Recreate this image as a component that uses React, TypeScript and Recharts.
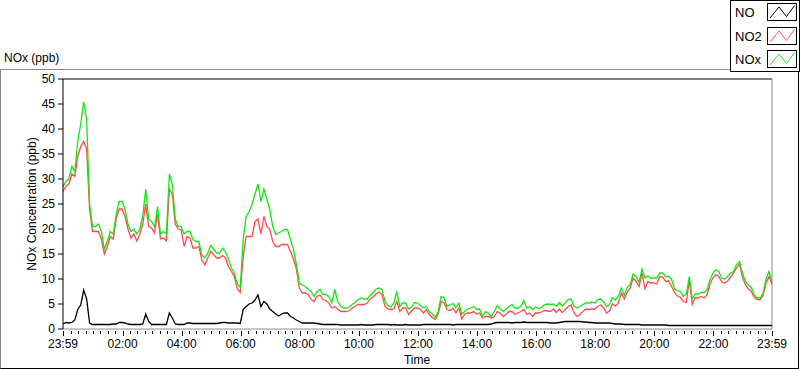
import React from "react";
import { LineChart, Line, XAxis, YAxis, ReferenceLine, Legend } from "recharts";

// one sample every 6 minutes, starting at 23:59
const STEP_MIN = 6;
const START_CLOCK = 23 * 60 + 59;

const NO = [
  1.0, 1.3, 1.2, 1.3, 1.8, 3.9, 4.8, 7.8, 6.0, 1.2,
  0.9, 0.9, 0.9, 0.9, 0.9, 0.9, 0.9, 1.0, 1.0, 1.3,
  1.3, 1.2, 1.0, 0.9, 0.9, 0.9, 0.9, 1.0, 3.0, 1.5,
  0.9, 0.9, 0.9, 0.9, 0.9, 0.9, 3.2, 2.2, 1.0, 0.9,
  0.9, 0.9, 1.2, 1.2, 1.1, 1.1, 1.1, 1.1, 1.1, 1.1,
  1.1, 1.1, 1.1, 1.2, 1.3, 1.3, 1.2, 1.2, 1.2, 1.2,
  1.1, 3.9, 4.5, 5.0, 5.2, 5.8, 6.8, 4.5, 5.5, 5.0,
  4.0, 3.5, 3.0, 2.6, 3.0, 3.2, 3.2, 2.5, 2.2, 1.8,
  1.5, 1.2, 1.2, 1.2, 1.2, 1.2, 1.1, 1.0, 0.9, 0.9,
  0.9, 0.9, 0.9, 0.9, 0.8, 0.8, 0.8, 0.8, 0.8, 0.8,
  0.8, 0.9, 0.8, 0.8, 0.8, 0.8, 0.9, 0.9, 0.9, 0.9,
  0.9, 0.8, 0.9, 0.8, 0.8, 0.8, 0.9, 0.8, 0.8, 0.8,
  0.8, 0.8, 0.9, 0.9, 0.9, 0.9, 0.9, 0.9, 0.9, 0.9,
  0.9, 0.9, 0.8, 0.9, 0.9, 0.9, 0.9, 0.9, 0.9, 0.9,
  0.9, 0.9, 0.9, 0.9, 0.9, 1.0, 1.2, 1.3, 1.3, 1.3,
  1.3, 1.3, 1.2, 1.3, 1.3, 1.3, 1.4, 1.3, 1.3, 1.3,
  1.3, 1.3, 1.3, 1.3, 1.3, 1.2, 1.2, 1.2, 1.3, 1.4,
  1.5, 1.5, 1.5, 1.5, 1.5, 1.5, 1.4, 1.4, 1.3, 1.3,
  1.2, 1.2, 1.2, 1.2, 1.2, 1.2, 1.1, 1.0, 1.0, 1.0,
  0.9, 0.9, 0.9, 0.9, 0.9, 0.9, 0.8, 0.8, 0.8, 0.8,
  0.8, 0.8, 0.8, 0.8, 0.8, 0.7, 0.7, 0.7, 0.7, 0.7,
  0.7, 0.7, 0.7, 0.7, 0.7, 0.7, 0.7, 0.7, 0.7, 0.7,
  0.7, 0.7, 0.7, 0.7, 0.7, 0.7, 0.7, 0.7, 0.7, 0.7,
  0.7, 0.7, 0.7, 0.7, 0.7, 0.7, 0.7, 0.7, 0.7, 0.7,
  0.7,
];

const NO2 = [
  27.5, 28.5, 29, 31, 30.5, 34.5, 36.5, 37.5, 36, 24,
  19.5, 19.5, 19.5, 18, 15, 16.5, 18.5, 18, 22, 24,
  24, 22.5, 20, 18.2, 19, 17.6, 19, 21, 25, 20.5,
  20.2, 19.2, 23, 18, 18.2, 17.6, 28, 27, 21, 20,
  19.8, 16.5, 18.5, 18.2, 16.2, 16.2, 16.5, 13.8, 12.8, 14.2,
  15.5, 14.9, 14.2, 14.2, 14.7, 14.2, 12.5, 11.5, 10.5, 8,
  7.3, 14.5, 18.5, 18.5, 18.5, 21.5, 22, 19, 22.5, 20.5,
  19.9, 17.5, 16.5, 16.5, 16.9, 16.9, 16.9, 15.5, 14, 12,
  8.2, 7.2, 7.2, 6.9, 5.9, 5.5, 6.5, 6.8, 5.9, 5.7,
  5.2, 4.2, 4.5, 4.0, 3.5, 3.5, 3.5, 3.7, 4.2, 4.6,
  4.9, 4.9, 4.9, 5.2, 6.0, 6.4, 7.0, 7.4, 6.8, 4.5,
  4.0, 3.9, 4.0, 5.5, 3.5, 4.2, 4.2, 2.9, 3.6, 4.2,
  4.2, 3.9, 3.2, 3.9, 2.9, 2.3, 1.9, 3.0, 5.5, 5.2,
  3.9, 3.7, 4.2, 3.2, 4.2, 2.0, 3.0, 3.2, 3.2, 3.5,
  3.0, 3.2, 2.2, 2.5, 2.5, 2.2, 2.5, 3.5, 3.2, 2.5,
  2.9, 3.5, 3.5, 2.9, 3.2, 3.5, 3.9, 2.9, 3.2, 2.5,
  3.2, 3.2, 3.4, 3.7, 3.6, 3.5, 4.0, 3.3, 4.0, 3.3,
  3.9, 4.5, 4.8, 3.2, 2.5, 2.9, 3.5, 4.0, 3.9, 4.0,
  4.0, 4.5, 4.8, 4.2, 3.2, 3.6, 5.0, 4.6, 5.2, 7.2,
  6.0, 7.4, 8.2, 10.2, 9.5, 8.5, 11.2, 8.0, 9.5, 9.2,
  9.2, 9.0, 10.5, 10.4, 9.5, 9.6, 8.5, 7.3, 6.6, 6.3,
  5.5, 5.3, 9.8, 4.9, 6.3, 6.2, 6.5, 6.2, 6.8, 9.0,
  10.2, 10.9, 10.5, 9.4, 9.2, 9.6, 10.4, 11.2, 12.2, 13.0,
  10.4, 8.8, 8.0, 7.5, 6.3, 5.9, 5.9, 6.7, 9.2, 10.5,
  9.0,
];

const NOX = [
  28.5, 29.5, 30, 32.5, 31.5, 37.5, 41, 45.5, 42, 25,
  20.5, 20.5, 21, 19.5, 16, 17.5, 19.5, 19, 23, 25.5,
  25.5, 24, 21, 19.5, 20, 19, 20, 22.5, 28, 22,
  21.5, 20.5, 24.5, 19, 19.5, 19, 31, 29, 22, 20.5,
  20.5, 19, 19.5, 19.5, 17.9, 17.5, 17.5, 14.8, 14.2, 15.2,
  16.7, 16, 15.2, 15.2, 16.2, 15.5, 14, 12.2, 11.2, 9,
  8.3, 18, 22.5, 23.5, 24.9, 27, 29, 25.5, 28, 26,
  23.9, 20.5, 18.9, 19.2, 19.5, 19.9, 19.9, 17.8, 16, 13,
  9.2, 8.8, 8.5, 8.0, 7.5, 6.5, 7.5, 7.9, 6.9, 6.9,
  6.5, 5.2, 7.9, 5.5, 4.5, 4.2, 4.2, 4.4, 5.0, 5.3,
  5.9, 6.2, 6.0, 6.0, 6.7, 7.3, 8.0, 8.2, 7.9, 5.5,
  4.7, 4.4, 5.2, 7.5, 4.5, 5.2, 5.2, 4.0, 4.4, 5.3,
  5.2, 4.7, 4.2, 4.5, 3.5, 3.0, 2.3, 3.5, 6.5, 6.2,
  4.5, 4.8, 5.1, 4.3, 5.2, 3.0, 3.5, 4.0, 4.2, 4.5,
  3.9, 4.0, 2.6, 3.5, 3.2, 2.5, 3.5, 4.7, 4.0, 3.5,
  4.0, 4.5, 4.9, 4.2, 4.2, 4.5, 5.7, 4.2, 4.5, 3.9,
  4.4, 4.1, 4.3, 4.9, 5.0, 4.9, 5.0, 4.5, 5.3, 4.6,
  5.2, 5.9, 6.0, 4.6, 4.2, 4.5, 4.9, 5.2, 5.2, 5.4,
  5.2, 5.9, 6.0, 5.4, 4.5, 4.9, 6.3, 5.8, 6.5, 8.2,
  6.7, 8.3, 8.9, 11.0, 10.5, 9.3, 12.0, 10.2, 10.6, 10.2,
  10.2, 10.2, 11.2, 11.2, 10.5, 10.5, 10.0, 8.0, 7.6, 7.5,
  6.5, 7.0, 10.5, 6.0, 7.0, 7.0, 7.3, 7.3, 7.8, 9.8,
  11.2, 11.9, 11.5, 10.2, 10.0, 10.5, 11.2, 11.5, 12.9, 13.5,
  11.2, 9.5, 8.8, 8.3, 6.8, 6.2, 6.2, 7.2, 10.0, 11.5,
  9.5,
];

// minutes after 23:59
const MAJOR_TICKS = [0, 121, 241, 361, 481, 601, 721, 841, 961, 1081, 1201, 1321, 1440];
const MINOR_TICKS: number[] = [];
for (let k = 1; k < 96; k++) {
  const m = 1 + k * 15;
  if (!MAJOR_TICKS.includes(m)) MINOR_TICKS.push(m);
}
const ALL_TICKS = [...MAJOR_TICKS, ...MINOR_TICKS].sort((a, b) => a - b);
const Y_TICKS = [0, 5, 10, 15, 20, 25, 30, 35, 40, 45, 50];

const FONT = "'Liberation Sans', Arial, sans-serif";

const data = NOX.map((v, i) => ({ t: i * STEP_MIN, no: NO[i], no2: NO2[i], nox: v }));

function clock(m: number) {
  const c = (START_CLOCK + m) % 1440;
  const hh = String(Math.floor(c / 60)).padStart(2, "0");
  const mm = String(c % 60).padStart(2, "0");
  return `${hh}:${mm}`;
}

function TimeTick({ x, y, payload }: any) {
  const major = MAJOR_TICKS.includes(payload.value);
  const px = Math.round(x) + 0.5;
  return (
    <g>
      <line x1={px} x2={px} y1={y + 2} y2={y + (major ? 7 : 5)} stroke="#000" />
      {major && (
        <text x={x} y={y + 19} textAnchor="middle" fontSize={12} fill="#000" fontFamily={FONT}>
          {clock(payload.value)}
        </text>
      )}
    </g>
  );
}

function LegendBox({ payload }: any) {
  return (
    <div
      style={{
        width: 70,
        height: 72,
        boxSizing: "border-box",
        border: "1px solid #000",
        background: "#fff",
        fontFamily: FONT,
        fontSize: 13,
        color: "#000",
      }}
    >
      {(payload || []).map((p: any) => (
        <div key={p.value} style={{ position: "relative", height: 23.5 }}>
          <span style={{ position: "absolute", left: 4, top: 4 }}>{p.value}</span>
          <svg width={30} height={18} style={{ position: "absolute", left: 36, top: 2 }}>
            <rect x={0.5} y={0.5} width={29} height={17} fill="#fff" stroke="#000" />
            <polyline points="3,15 12,4 19.5,13.5 27.5,2.5" fill="none" stroke={p.color} strokeWidth={1} />
          </svg>
        </div>
      ))}
    </div>
  );
}

export default function App() {
  return (
    <div style={{ position: "absolute", left: 0, top: 0, width: 800, height: 369, background: "#fff", fontFamily: FONT }}>
      <div style={{ position: "absolute", left: 4, top: 51, fontSize: 12, color: "#000" }}>NOx (ppb)</div>
      <div
        style={{
          position: "absolute",
          left: 0,
          top: 69,
          width: 799,
          height: 300,
          boxSizing: "border-box",
          borderTop: "1px solid #8c8c8c",
          borderLeft: "1px solid #8c8c8c",
          borderRight: "1px solid #000",
          borderBottom: "1px solid #000",
        }}
      />
      <div
        style={{
          position: "absolute",
          left: 32,
          top: 204,
          transform: "translate(-50%, -50%) rotate(-90deg)",
          whiteSpace: "nowrap",
          fontSize: 12,
          color: "#000",
        }}
      >
        NOx Concentration (ppb)
      </div>
      <div style={{ position: "absolute", left: 417, top: 353, transform: "translateX(-50%)", fontSize: 12, color: "#000" }}>
        Time
      </div>
      <div style={{ position: "absolute", left: 0, top: 0 }}>
        <LineChart width={800} height={369} data={data} margin={{ top: 79, right: 28, bottom: 0, left: 0 }}>
          <XAxis
            dataKey="t"
            type="number"
            domain={[0, 1440]}
            ticks={ALL_TICKS}
            interval={0}
            tick={<TimeTick />}
            tickLine={false}
            tickSize={0}
            tickMargin={0}
            height={40}
            axisLine={{ stroke: "#8c8c8c" }}
          />
          <YAxis
            type="number"
            domain={[0, 50]}
            ticks={Y_TICKS}
            interval={0}
            width={63}
            tickSize={5}
            tickMargin={3}
            axisLine={{ stroke: "#000" }}
            tickLine={{ stroke: "#000" }}
            tick={{ fill: "#000", fontSize: 12, fontFamily: FONT }}
          />
          <ReferenceLine y={50} stroke="#000" />
          <ReferenceLine x={1440} stroke="#8c8c8c" />
          <Legend
            verticalAlign="middle"
            align="center"
            layout="horizontal"
            wrapperStyle={{ position: "absolute", left: 730, top: 0, width: 70, height: 72 }}
            content={(props: any) => <LegendBox payload={props.payload} />}
          />
          <Line type="linear" dataKey="no" name="NO" stroke="#000000" strokeWidth={1.3} dot={false} isAnimationActive={false} />
          <Line type="linear" dataKey="no2" name="NO2" stroke="#ff4a4a" strokeWidth={1.3} dot={false} isAnimationActive={false} />
          <Line type="linear" dataKey="nox" name="NOx" stroke="#14e614" strokeWidth={1.3} dot={false} isAnimationActive={false} />
        </LineChart>
      </div>
    </div>
  );
}
